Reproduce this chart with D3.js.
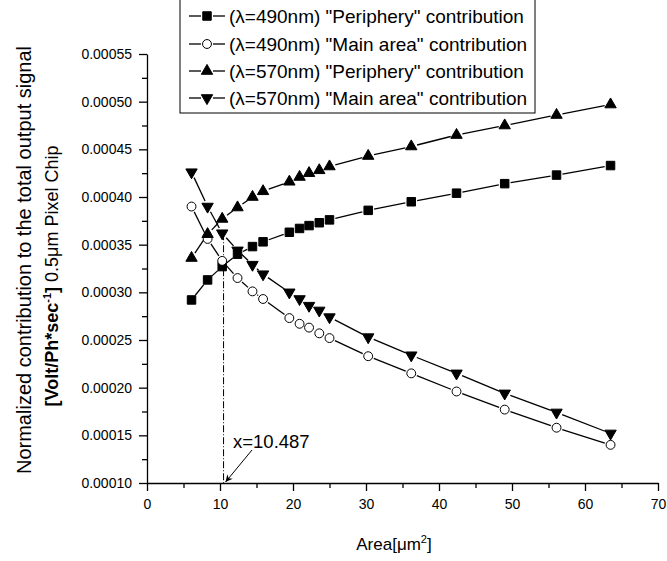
<!DOCTYPE html>
<html><head><meta charset="utf-8">
<script src="https://cdn.jsdelivr.net/npm/d3@7"></script>
<style>
body{margin:0;background:#fff}
svg{display:block}
text{font-family:"Liberation Sans",Arial,sans-serif;fill:#000}
</style>
</head><body><svg id="c" width="667" height="561"></svg>
<script>
// ---- data ----
const area = [6.1, 8.3, 10.3, 12.4, 14.45, 15.9, 19.5, 20.9, 22.2, 23.6, 25.0, 30.3, 36.2, 42.4, 49.0, 56.1, 63.5];
const periph490 = [0.000292, 0.000313, 0.000327, 0.000340, 0.000348, 0.000353, 0.000363, 0.000367, 0.000370, 0.000373, 0.000376, 0.000386, 0.000395, 0.000404, 0.000414, 0.000423, 0.000433];
const main490   = [0.000390, 0.000356, 0.000333, 0.000315, 0.000301, 0.000293, 0.000273, 0.000267, 0.000263, 0.000257, 0.000252, 0.000233, 0.000215, 0.000196, 0.000177, 0.000158, 0.000140];
const periph570 = [0.000336, 0.000361, 0.000377, 0.000389, 0.000400, 0.000406, 0.000416, 0.000421, 0.000425, 0.000428, 0.000432, 0.000443, 0.000453, 0.000465, 0.000475, 0.000486, 0.000497];
const main570   = [0.000426, 0.000390, 0.000362, 0.000344, 0.000329, 0.000319, 0.000300, 0.000293, 0.000286, 0.000281, 0.000274, 0.000253, 0.000234, 0.000215, 0.000194, 0.000174, 0.000152];
const seriesLabels = [
  '(\u03bb=490nm) "Periphery" contribution',
  '(\u03bb=490nm) "Main area" contribution',
  '(\u03bb=570nm) "Periphery" contribution',
  '(\u03bb=570nm) "Main area" contribution'
];
const xTicks = [0, 10, 20, 30, 40, 50, 60, 70];
const xMinorTicks = [5, 15, 25, 35, 45, 55, 65];
const yTicks = [0.00010, 0.00015, 0.00020, 0.00025, 0.00030, 0.00035, 0.00040, 0.00045, 0.00050, 0.00055];
const yMinorTicks = [0.000125, 0.000175, 0.000225, 0.000275, 0.000325, 0.000375, 0.000425, 0.000475, 0.000525];
const crossX = 10.487;
const crossTop = 0.000362;
const crossLabel = "x=10.487";

// ---- drawing ----
const svg = d3.select('#c');
const x = d3.scaleLinear().domain([0, 70]).range([147, 658]);
const y = d3.scaleLinear().domain([0.0001, 0.00055]).range([483, 54]);

const series = [
  {vals: periph490, sym: d3.symbolSquare, size: 72, fill: '#000', rot: 0},
  {vals: main490, sym: d3.symbolCircle, size: 62, fill: '#fff', rot: 0},
  {vals: periph570, sym: d3.symbolTriangle, size: 56, fill: '#000', rot: 0},
  {vals: main570, sym: d3.symbolTriangle, size: 56, fill: '#000', rot: 180}
];

// axes
const gx = svg.append('g').attr('transform', `translate(0,${y(0.0001)})`);
gx.call(d3.axisBottom(x).tickValues(xTicks).tickSize(8).tickSizeOuter(0).tickPadding(8).tickFormat(d3.format('d')));
const gxm = svg.append('g').attr('transform', `translate(0,${y(0.0001)})`);
gxm.call(d3.axisBottom(x).tickValues(xMinorTicks).tickSize(5).tickSizeOuter(0).tickFormat(''));
gxm.select('.domain').remove();

const gy = svg.append('g').attr('transform', `translate(${x(0)},0)`);
gy.call(d3.axisLeft(y).tickValues(yTicks).tickSize(8).tickSizeOuter(0).tickPadding(7).tickFormat(d3.format('.5f')));
const gym = svg.append('g').attr('transform', `translate(${x(0)},0)`);
gym.call(d3.axisLeft(y).tickValues(yMinorTicks).tickSize(5).tickSizeOuter(0).tickFormat(''));
gym.select('.domain').remove();

svg.selectAll('.domain, .tick line').attr('stroke', '#000').attr('stroke-width', 1.3);
svg.selectAll('.tick text').attr('font-size', 14).attr('font-family', '"Liberation Sans",Arial,sans-serif').attr('fill', '#000');

// axis titles
svg.append('text').attr('x', 394).attr('y', 550).attr('text-anchor', 'middle').attr('font-size', 17)
  .html('Area[\u03bcm<tspan dy="-7" font-size="11">2</tspan><tspan dy="7">]</tspan>');

svg.append('text').attr('transform', 'translate(31,260) rotate(-90)').attr('text-anchor', 'middle').attr('font-size', 20)
  .text('Normalized contribution to the total output signal');
const t2 = svg.append('text').attr('transform', 'translate(58,276) rotate(-90)').attr('text-anchor', 'middle').attr('font-size', 18);
t2.append('tspan').attr('font-weight', 'bold').text('[Volt/Ph*sec');
t2.append('tspan').attr('font-weight', 'bold').attr('font-size', 11).attr('dy', -7).text('-1');
t2.append('tspan').attr('font-weight', 'bold').attr('dy', 7).text(']');
t2.append('tspan').text(' 0.5\u03bcm Pixel Chip');

// dash-dot vertical line
svg.append('line').attr('x1', x(crossX)).attr('x2', x(crossX)).attr('y1', y(crossTop)).attr('y2', y(0.0001))
  .attr('stroke', '#000').attr('stroke-width', 1).attr('stroke-dasharray', '7,2,1,2');

// series lines with gaps around markers
const gap = 6;
series.forEach(s => {
  const pts = area.map((a, i) => [x(a), y(s.vals[i])]);
  for (let i = 0; i < pts.length - 1; i++) {
    const [x1, y1] = pts[i], [x2, y2] = pts[i + 1];
    const dx = x2 - x1, dy = y2 - y1, L = Math.hypot(dx, dy);
    if (L <= 2 * gap + 1) continue;
    const ux = dx / L, uy = dy / L;
    svg.append('line').attr('x1', x1 + ux * gap).attr('y1', y1 + uy * gap)
      .attr('x2', x2 - ux * gap).attr('y2', y2 - uy * gap)
      .attr('stroke', '#000').attr('stroke-width', 1.3);
  }
});
series.forEach(s => {
  svg.append('g').selectAll('path').data(area).join('path')
    .attr('d', d3.symbol().type(s.sym).size(s.size))
    .attr('transform', (a, i) => `translate(${x(a)},${y(s.vals[i])}) rotate(${s.rot})`)
    .attr('fill', s.fill).attr('stroke', '#000').attr('stroke-width', 1);
});

// annotation
svg.append('defs').append('marker').attr('id', 'arr').attr('viewBox', '0 0 10 10').attr('refX', 10).attr('refY', 5)
  .attr('markerWidth', 9).attr('markerHeight', 7).attr('markerUnits', 'userSpaceOnUse').attr('orient', 'auto')
  .append('path').attr('d', 'M0,0 L10,5 L0,10 L3,5 Z').attr('fill', '#000');
svg.append('line').attr('x1', 252).attr('y1', 450).attr('x2', x(crossX) + 2).attr('y2', y(0.0001) - 1)
  .attr('stroke', '#000').attr('stroke-width', 1).attr('marker-end', 'url(#arr)');
svg.append('text').attr('x', 233).attr('y', 448).attr('font-size', 18.5).text(crossLabel);

// legend
const lg = svg.append('g');
lg.append('rect').attr('x', 180).attr('y', -1).attr('width', 355).attr('height', 114)
  .attr('fill', '#fff').attr('stroke', '#000').attr('stroke-width', 1);
const rowY = [16, 44, 71, 98];
series.forEach((s, i) => {
  const yy = rowY[i];
  lg.append('line').attr('x1', 189).attr('x2', 201).attr('y1', yy).attr('y2', yy).attr('stroke', '#000').attr('stroke-width', 1.3);
  lg.append('line').attr('x1', 213).attr('x2', 225).attr('y1', yy).attr('y2', yy).attr('stroke', '#000').attr('stroke-width', 1.3);
  lg.append('path').attr('d', d3.symbol().type(s.sym).size(s.size))
    .attr('transform', `translate(207,${yy}) rotate(${s.rot})`)
    .attr('fill', s.fill).attr('stroke', '#000').attr('stroke-width', 1);
  lg.append('text').attr('x', 229).attr('y', yy).attr('dy', '0.35em').attr('font-size', 19).text(seriesLabels[i]);
});
</script>
</body></html>
